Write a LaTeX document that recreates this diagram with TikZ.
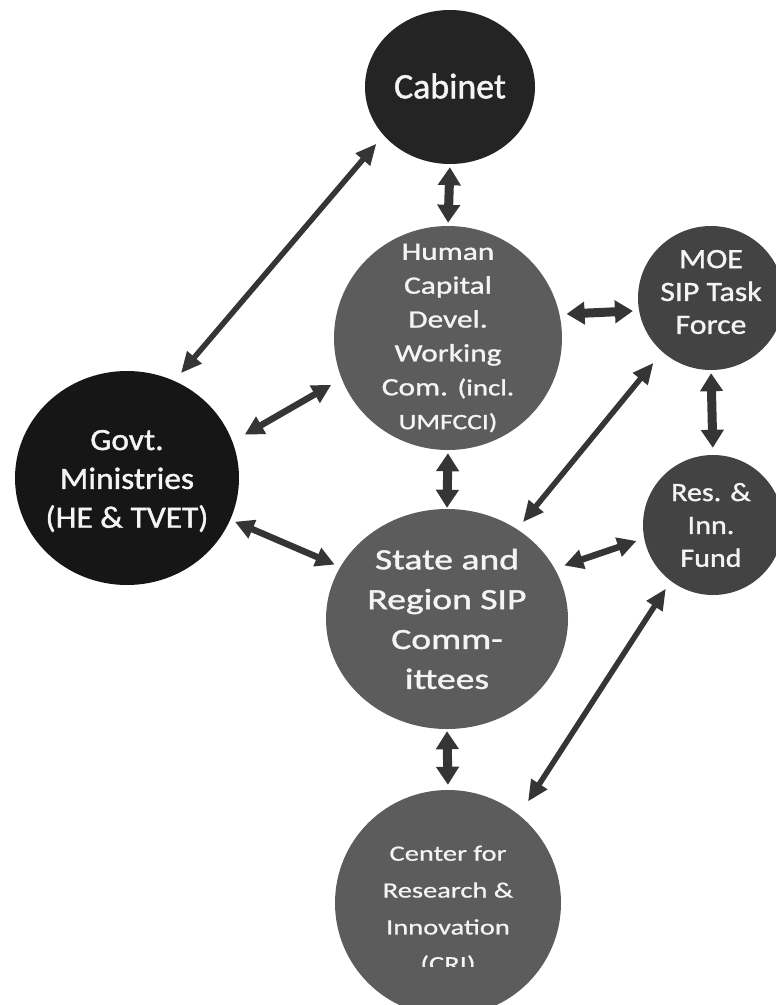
\documentclass[tikz,border=0pt]{standalone}
\usepackage{fontspec}
\setmainfont{Carlito}[FakeBold=1.3]
\newfontfamily\hcfont{Carlito}[FakeStretch=1.26,FakeBold=1.2]
\newfontfamily\govfont{Carlito}[FakeStretch=1.08,FakeBold=1.3]
\newfontfamily\stfont{Carlito}[FakeStretch=1.28,FakeBold=1.3]
\newfontfamily\moefont{Carlito}[FakeStretch=1.14,FakeBold=1.2]
\newfontfamily\crifont{Carlito}[FakeStretch=1.3,FakeBold=0.7]
\usetikzlibrary{shapes.geometric,arrows.meta}
\definecolor{cabc}{HTML}{242424}
\definecolor{govc}{HTML}{161616}
\definecolor{midc}{HTML}{5C5C5C}
\definecolor{moec}{HTML}{434343}
\definecolor{arrc}{HTML}{353535}
\definecolor{txtc}{HTML}{F4F4F4}
\begin{document}
\begin{tikzpicture}[x=1bp,y=-1bp,
  bub/.style args={#1/#2}{ellipse,inner sep=0pt,minimum width=#1bp,minimum height=#2bp},
  txt/.style={text=txtc,align=center,inner sep=0pt},
  thickA/.style={{Triangle[length=18bp,width=22bp]}-{Triangle[length=18bp,width=22bp]},line width=9bp,draw=arrc},
  medA/.style={{Triangle[length=19bp,width=19bp]}-{Triangle[length=19bp,width=19bp]},line width=6.5bp,draw=arrc},
  thinA/.style={{Triangle[length=21bp,width=18bp]}-{Triangle[length=21bp,width=18bp]},line width=5.5bp,draw=arrc}]
\fill[white] (0,0) rectangle (776,1005);
\useasboundingbox (0,0) rectangle (776,1005);
\clip (0,0) rectangle (776,1005);
% bubbles
\node[bub={170/154},fill=cabc] (cab) at (450,87) {};
\node[bub={228/224},fill=midc] (hc) at (448,338) {};
\node[bub={146/144},fill=moec] (moe) at (711,298) {};
\node[bub={224/214},fill=govc] (gov) at (127,478) {};
\node[bub={242/220},fill=midc] (st) at (447,619) {};
\node[bub={140/140},fill=moec] (res) at (713,525) {};
\node[bub={226/226},fill=midc] (cri) at (448,903) {};
% texts
\node[txt,font=\fontsize{36}{40}\selectfont] (cabT) at (450,86) {Cabinet};
\node[txt,font=\hcfont\fontsize{25}{34}\selectfont] (hcT) at (448,338) {Human\\Capital\\Devel.\\Working\\Com. {\fontsize{23}{30}\selectfont(incl.}\\{\fontsize{22}{30}\selectfont UMFCCI)}};
\node[txt,font=\moefont\fontsize{28}{33}\selectfont] (moeT) at (711,292) {MOE\\SIP Task\\Force};
\node[txt,font=\govfont\fontsize{31}{39}\selectfont] (govT) at (127,481) {Govt.\\Ministries\\(HE \& TVET)};
\node[txt,font=\stfont\fontsize{29.5}{40}\selectfont] (stT) at (447,619) {State and\\Region SIP\\Comm-\\ittees};
\node[txt,font=\moefont\fontsize{26.5}{33}\selectfont] (resT) at (711,525) {Res. \&\\Inn.\\Fund};
\begin{scope}
\clip (0,0) rectangle (776,966);
\node[txt,font=\crifont\fontsize{22}{37}\selectfont] (criT) at (448,910) {Center for\\Research \&\\Innovation\\(CRI)};
\end{scope}
% connectors
\draw[thinA,shorten <=11bp,shorten >=10bp] (cab.216) -- (gov.64);
\draw[thickA,shorten <=3bp,shorten >=3bp] (cab.south) -- (hc.north);
\draw[thickA,shorten <=7bp,shorten >=6bp] (hc.12) -- (moe.190);
\draw[medA,shorten <=12bp,shorten >=14bp] (hc.201) -- (gov.19);
\draw[thickA,shorten <=3bp,shorten >=1bp] (hc.south) -- (st.north);
\draw[thickA,shorten <=3bp,shorten >=7bp] (moe.south) -- (res.north);
\draw[thinA,shorten <=14bp,shorten >=9bp] (moe.228) -- (st.52);
\draw[medA,shorten <=5bp,shorten >=6bp] (gov.338) -- (st.154);
\draw[medA,shorten <=10bp,shorten >=8bp] (st.25) -- (res.191);
\draw[thinA,shorten <=9bp,shorten >=16bp] (res.233) -- (cri.51);
\draw[thickA,shorten <=2bp,shorten >=5bp] (st.south) -- (cri.north);
\end{tikzpicture}
\end{document}
